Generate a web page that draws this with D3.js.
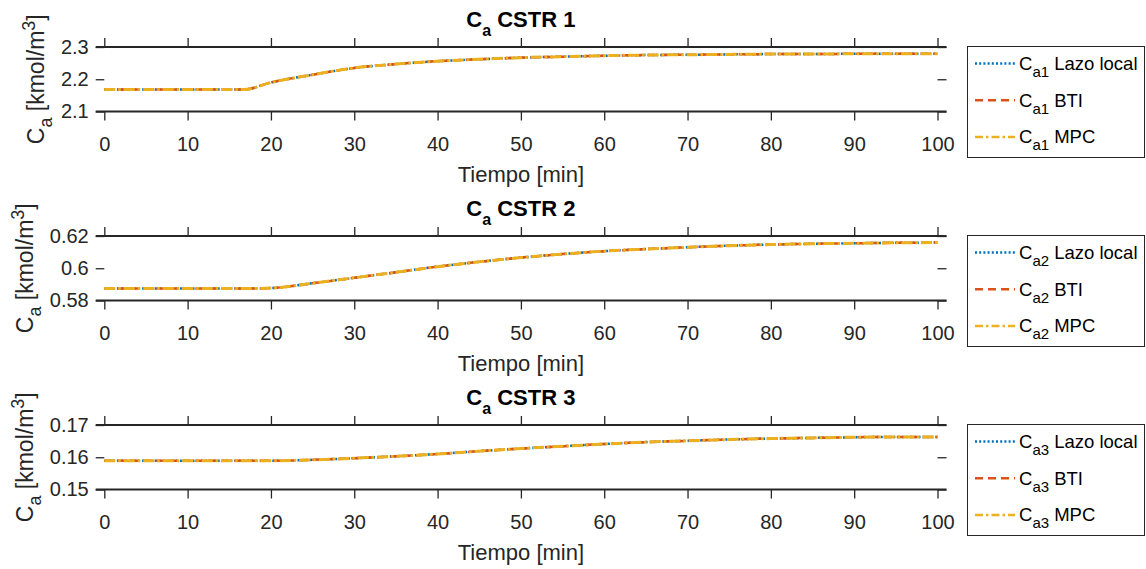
<!DOCTYPE html>
<html>
<head>
<meta charset="utf-8">
<script src="https://cdn.jsdelivr.net/npm/d3@7"></script>
<style>
body { margin: 0; background: #fff; }
text { font-family: "Liberation Sans", Arial, Helvetica, sans-serif; }
</style>
</head>
<body>
<div id="chart"></div>
<script>
// sample times [min]
const time = [0, 16.7, 20, 25, 30, 35, 40, 45, 50, 55, 60, 65, 70, 75, 80, 85, 90, 95, 100];

// Ca per reactor (the three controllers overlap)
const caCstr1 = [2.168, 2.168, 2.190, 2.214, 2.235, 2.247, 2.256, 2.262, 2.267, 2.270, 2.273, 2.275, 2.276, 2.277, 2.278, 2.278, 2.279, 2.279, 2.279];
const caCstr2 = [0.5874, 0.5874, 0.5877, 0.5907, 0.5941, 0.5975, 0.6010, 0.6040, 0.6066, 0.6088, 0.6106, 0.6119, 0.6130, 0.6140, 0.6147, 0.6152, 0.6155, 0.6158, 0.6159];
const caCstr3 = [0.1589, 0.1589, 0.1589, 0.1592, 0.1597, 0.1603, 0.1610, 0.1619, 0.1627, 0.1634, 0.1641, 0.1647, 0.1651, 0.1655, 0.1658, 0.1660, 0.1662, 0.1663, 0.1663];

const xTicks = [0, 10, 20, 30, 40, 50, 60, 70, 80, 90, 100];
const yTicks1 = [2.1, 2.2, 2.3], yTickLabels1 = ["2.1", "2.2", "2.3"];
const yTicks2 = [0.58, 0.6, 0.62], yTickLabels2 = ["0.58", "0.6", "0.62"];
const yTicks3 = [0.15, 0.16, 0.17], yTickLabels3 = ["0.15", "0.16", "0.17"];

const seriesNames = ["Lazo local", "BTI", "MPC"];
const seriesColors = ["#0072BD", "#D95319", "#EDB120"];
const seriesDash = ["2,2.2", "8,5", "11,3,2.5,3"];
const legendDash = ["2,2.2", "8,5", "8,3,2.5,3"];

const panels = [
  {title: "CSTR 1", sub: "a1", values: caCstr1, ticks: yTicks1, labels: yTickLabels1},
  {title: "CSTR 2", sub: "a2", values: caCstr2, ticks: yTicks2, labels: yTickLabels2},
  {title: "CSTR 3", sub: "a3", values: caCstr3, ticks: yTicks3, labels: yTickLabels3}
];

const width = 1146, height = 569;
const left = 104.3, right = 937.5, axH = 64.5;
const tops = [47, 236, 425];
const ink = "#262626";

const svg = d3.select("#chart")
  .append("svg")
    .attr("width", width)
    .attr("height", height);

const x = d3.scaleLinear().domain([0, 100]).range([left, right]);

function styleAxis(g) {
  g.select(".domain").remove();
  g.selectAll(".tick line").attr("stroke", ink).attr("stroke-width", 1.3);
  g.selectAll("text").attr("fill", ink);
  g.attr("font-size", 20);
}

panels.forEach((p, i) => {
  const top = tops[i], bottom = top + axH;
  const y = d3.scaleLinear()
    .domain(d3.extent(p.ticks))
    .range([bottom, top]);

  const g = svg.append("g");

  // ticks (outward) on all four sides
  g.append("g")
    .attr("transform", `translate(0,${bottom})`)
    .call(d3.axisBottom(x).tickValues(xTicks).tickSize(9).tickPadding(16).tickSizeOuter(0))
    .call(styleAxis);
  g.append("g")
    .attr("transform", `translate(0,${top})`)
    .call(d3.axisTop(x).tickValues(xTicks).tickSize(9).tickFormat("").tickSizeOuter(0))
    .call(styleAxis);
  const yAxis = g.append("g")
    .attr("transform", `translate(${left},0)`)
    .call(d3.axisLeft(y).tickValues(p.ticks).tickSize(8.6).tickPadding(7)
      .tickFormat((d, j) => p.labels[j]).tickSizeOuter(0))
    .call(styleAxis);
  g.append("g")
    .attr("transform", `translate(${right},0)`)
    .call(d3.axisRight(y).tickValues(p.ticks).tickSize(9).tickFormat("").tickSizeOuter(0))
    .call(styleAxis);

  // top and bottom box lines
  [top, bottom].forEach(yy => {
    g.append("line")
      .attr("x1", left - 8.6).attr("x2", right + 9)
      .attr("y1", yy).attr("y2", yy)
      .attr("stroke", ink).attr("stroke-width", 2);
  });

  // data lines
  const line = d3.line()
    .x((d, j) => x(time[j]))
    .y(d => y(d))
    .curve(d3.curveMonotoneX);

  seriesNames.forEach((s, k) => {
    g.append("path")
      .datum(p.values)
      .attr("d", line)
      .attr("fill", "none")
      .attr("stroke", seriesColors[k])
      .attr("stroke-width", k === 2 ? 3 : 2.5)
      .attr("stroke-dasharray", seriesDash[k]);
  });

  // title
  const t = g.append("text")
    .attr("x", (left + right) / 2)
    .attr("y", top - 20)
    .attr("text-anchor", "middle")
    .attr("font-weight", "bold")
    .attr("font-size", 22)
    .attr("fill", "#000");
  t.append("tspan").text("C");
  t.append("tspan").attr("font-size", 16).attr("dy", 9).text("a");
  t.append("tspan").attr("dy", -9).text(" " + p.title);

  // x label
  g.append("text")
    .attr("x", (left + right) / 2)
    .attr("y", bottom + 70)
    .attr("text-anchor", "middle")
    .attr("font-size", 22)
    .attr("fill", ink)
    .text("Tiempo [min]");

  // y label sits left of the widest tick label
  let minX = left;
  yAxis.selectAll("text").each(function() {
    const b = this.getBBox();
    minX = Math.min(minX, left + b.x);
  });
  const yl = g.append("text")
    .attr("transform", `translate(${minX - 17},${(top + bottom) / 2}) rotate(-90)`)
    .attr("text-anchor", "middle")
    .attr("font-size", 23)
    .attr("fill", ink);
  yl.append("tspan").text("C");
  yl.append("tspan").attr("font-size", 18).attr("dy", 8).text("a");
  yl.append("tspan").attr("dy", -8).text(" [kmol/m");
  yl.append("tspan").attr("font-size", 18).attr("dy", -9).text("3");
  yl.append("tspan").attr("dy", 9).text("]");

  // legend
  const lg = g.append("g");
  lg.append("rect")
    .attr("x", 967.5).attr("y", top - 0.5)
    .attr("width", 177).attr("height", 111)
    .attr("fill", "#fff").attr("stroke", ink).attr("stroke-width", 1);

  seriesNames.forEach((s, k) => {
    const ly = top + 16.5 + k * 36.7;
    lg.append("line")
      .attr("x1", 975).attr("x2", 1015)
      .attr("y1", ly).attr("y2", ly)
      .attr("stroke", seriesColors[k])
      .attr("stroke-width", 2.5)
      .attr("stroke-dasharray", legendDash[k]);
    const lt = lg.append("text")
      .attr("x", 1019).attr("y", ly + 6.5)
      .attr("font-size", 18.5)
      .attr("fill", "#000");
    lt.append("tspan").text("C");
    lt.append("tspan").attr("font-size", 15).attr("dy", 7).text(p.sub);
    lt.append("tspan").attr("dy", -7).text(" " + s);
  });
});
</script>
</body>
</html>
